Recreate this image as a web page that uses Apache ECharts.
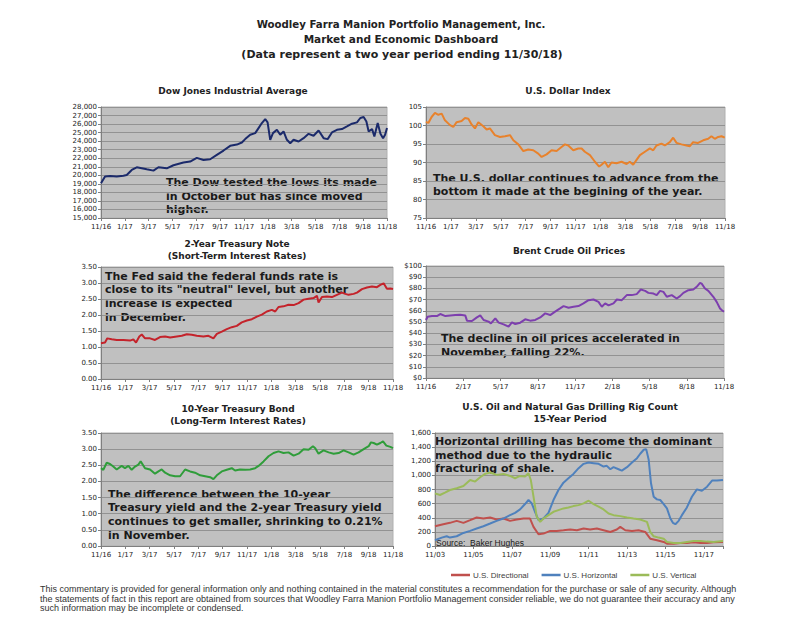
<!DOCTYPE html>
<html>
<head>
<meta charset="utf-8">
<script src="https://cdn.jsdelivr.net/npm/echarts@6/dist/echarts.min.js"></script>
<style>
html,body{margin:0;padding:0;background:#fff;}
#chart{width:800px;height:620px;}
</style>
</head>
<body>
<div id="chart"></div>
<script>
// ---------- DATA (x = months since 11/2016, or years since 11/2003 for rig counts) ----------
const dowX = [0,0.34,0.76,1.32,1.88,2.16,2.58,3.0,3.42,3.84,4.4,4.82,5.52,6.08,6.92,7.48,8.04,8.6,9.16,9.72,10.28,10.84,11.4,11.82,12.1,12.52,12.94,13.22,13.5,13.78,13.98,14.2,14.43,14.76,15.04,15.32,15.6,15.88,16.16,16.58,17.0,17.42,17.84,18.26,18.68,19.02,19.38,19.8,20.22,20.64,21.06,21.48,21.76,22.04,22.27,22.46,22.75,22.94,23.22,23.45,23.67,23.84,24.0];
const dowY = [19060,19850,19920,19850,19960,20040,20630,20940,20820,20700,20550,20940,20820,21180,21490,21610,22040,21800,21880,22390,22900,23450,23600,23840,24240,24750,24940,25530,26120,26590,26200,24160,24940,25330,24750,25140,24160,23760,24160,23960,24350,24860,24630,25250,24350,24240,25020,25330,25410,25720,26040,26200,26710,26820,26310,25140,25410,24550,26120,24860,24350,24750,25530];

const usdX = [0,0.19,0.45,0.72,0.99,1.26,1.52,1.93,2.19,2.46,2.86,3.13,3.4,3.66,3.93,4.2,4.6,4.87,5.13,5.53,5.94,6.34,6.74,7.01,7.41,7.81,8.21,8.61,9.01,9.28,9.68,10.08,10.48,10.88,11.15,11.42,11.82,12.22,12.49,12.75,13.16,13.56,13.9,14.09,14.36,14.63,14.89,15.29,15.7,16.1,16.36,16.63,16.9,17.17,17.57,17.97,18.24,18.5,18.9,19.17,19.57,19.84,20.11,20.51,20.91,21.18,21.44,21.84,22.25,22.65,22.91,23.18,23.45,23.72,23.98];
const usdY = [101.0,100.7,102.3,103.4,102.9,103.2,101.4,100.1,99.6,100.9,101.2,102.0,101.8,100.3,99.2,100.9,99.8,98.9,99.2,97.4,96.9,97.1,97.4,96.0,94.9,93.1,93.5,93.3,92.4,91.5,92.2,93.3,93.1,94.2,94.9,94.6,93.3,93.8,93.8,92.9,92.0,90.2,88.9,89.4,90.2,88.7,90.0,89.8,90.2,89.6,90.2,89.4,90.7,92.0,92.9,93.8,93.3,94.6,95.1,94.6,95.5,96.7,95.3,94.9,94.6,94.4,95.5,95.3,96.0,96.4,97.1,96.4,96.9,97.1,96.7];

const t2X = [0,0.33,0.52,0.88,1.29,1.84,2.39,2.66,2.88,3.15,3.35,3.62,4.03,4.44,4.85,5.27,5.68,6.23,6.64,7.05,7.46,7.87,8.42,8.83,9.24,9.52,9.93,10.34,10.75,11.16,11.57,11.99,12.4,12.81,13.22,13.63,14.04,14.32,14.59,15.0,15.41,15.83,16.24,16.65,17.06,17.47,17.75,17.88,18.16,18.57,18.98,19.39,19.8,20.08,20.35,20.76,21.04,21.45,21.86,22.27,22.68,22.96,23.23,23.5,23.78,24.0];
const t2Y = [1.12,1.14,1.27,1.24,1.22,1.22,1.20,1.24,1.14,1.33,1.39,1.27,1.27,1.22,1.31,1.33,1.30,1.33,1.35,1.40,1.38,1.35,1.33,1.35,1.27,1.41,1.48,1.56,1.62,1.66,1.77,1.83,1.87,1.95,2.01,2.11,2.16,2.11,2.25,2.27,2.32,2.31,2.37,2.48,2.51,2.53,2.60,2.39,2.56,2.58,2.56,2.63,2.70,2.66,2.63,2.66,2.70,2.81,2.86,2.89,2.87,2.94,2.99,2.82,2.83,2.81];

const brentX = [0,0.13,0.48,0.88,1.15,1.56,1.96,2.36,2.76,3.16,3.3,3.7,4.1,4.37,4.64,5.04,5.23,5.58,5.85,6.25,6.65,6.92,7.19,7.59,7.99,8.39,8.8,9.2,9.6,10.0,10.4,10.8,11.08,11.48,11.88,12.28,12.68,13.09,13.49,13.89,14.16,14.43,14.7,15.1,15.37,15.77,16.17,16.57,16.97,17.3,17.65,17.91,18.32,18.58,18.85,19.12,19.39,19.79,20.19,20.46,20.73,21.13,21.53,21.8,22.07,22.2,22.47,22.74,23.14,23.41,23.68,23.81,24.0];
const brentY = [51.8,54.7,55.3,55.3,57.1,55.3,55.9,56.2,56.5,55.9,51.2,50.9,54.1,55.9,51.8,50.3,48.8,53.3,49.4,47.9,45.9,49.7,48.2,49.4,52.4,51.2,51.8,54.1,57.7,56.2,59.2,62.1,64.2,62.7,63.6,64.2,66.6,69.5,70.1,68.0,63.6,66.6,64.8,66.6,70.1,69.5,74.0,74.0,74.9,79.0,77.8,76.0,75.4,74.0,77.8,76.9,72.5,74.0,71.0,73.1,76.0,78.4,79.0,81.4,84.9,84.3,79.9,77.8,72.5,68.0,62.1,60.7,59.2];

const t10X = [0,0.19,0.47,0.74,1.01,1.29,1.7,1.97,2.25,2.52,2.8,3.07,3.26,3.62,4.03,4.44,4.72,4.99,5.27,5.68,6.09,6.5,6.91,7.32,7.73,8.15,8.56,8.97,9.24,9.52,9.93,10.34,10.75,11.02,11.43,11.85,12.26,12.67,12.95,13.36,13.77,14.18,14.59,15.0,15.41,15.83,16.24,16.65,17.06,17.42,17.61,17.88,18.29,18.71,19.12,19.53,19.94,20.35,20.76,21.17,21.59,22.0,22.19,22.41,22.68,22.96,23.18,23.45,23.78,24.0];
const t10Y = [2.41,2.36,2.58,2.54,2.46,2.37,2.48,2.41,2.48,2.36,2.46,2.52,2.62,2.41,2.37,2.24,2.31,2.37,2.27,2.19,2.16,2.16,2.37,2.31,2.27,2.19,2.16,2.13,2.07,2.19,2.31,2.36,2.41,2.34,2.37,2.36,2.37,2.41,2.48,2.62,2.78,2.88,2.93,2.88,2.90,2.80,2.86,3.00,2.98,3.09,3.03,2.86,2.96,2.90,2.86,2.88,2.96,2.90,2.83,2.90,3.00,3.09,3.21,3.19,3.14,3.19,3.24,3.11,3.07,3.03];

const rigDirX = [0,0.43,0.78,1.13,1.48,1.83,2.17,2.52,2.87,3.21,3.56,3.91,4.26,4.61,4.95,5.13,5.39,5.65,6.0,6.34,6.69,7.04,7.39,7.74,8.08,8.43,8.78,9.13,9.47,9.65,9.91,10.26,10.6,10.95,11.21,11.56,11.91,12.08,12.43,12.78,13.12,13.47,13.82,14.17,14.51,15.0];
const rigDirY = [280,309,328,356,328,366,404,389,404,375,389,356,375,389,389,271,166,176,214,214,223,233,223,247,233,247,223,199,233,271,223,214,223,199,104,81,57,33,33,43,43,52,43,43,52,57];
const rigHorX = [0,0.35,0.61,0.78,1.13,1.48,1.83,2.17,2.52,2.87,3.21,3.56,3.91,4.17,4.43,4.69,4.87,5.04,5.21,5.39,5.65,5.91,6.17,6.43,6.69,6.95,7.21,7.48,7.74,8.0,8.26,8.52,8.78,8.95,9.13,9.3,9.56,9.73,10.0,10.26,10.52,10.69,10.87,11.0,11.13,11.25,11.39,11.56,11.73,11.91,12.08,12.26,12.39,12.52,12.69,12.86,13.12,13.38,13.64,13.9,14.17,14.43,14.69,15.0];
const rigHorY = [81,119,138,119,138,185,214,247,280,318,356,389,437,470,518,594,651,603,484,366,389,470,651,793,897,959,1021,1102,1163,1182,1173,1163,1125,1135,1087,1116,1087,1068,1116,1182,1244,1306,1363,1372,1220,888,698,660,651,594,532,389,328,309,356,437,546,698,802,783,840,926,926,935];
const rigVerX = [0,0.26,0.52,0.78,1.13,1.48,1.83,2.09,2.35,2.61,2.87,3.21,3.56,3.91,4.17,4.43,4.69,4.87,4.99,5.13,5.3,5.48,5.65,5.91,6.17,6.43,6.69,6.95,7.21,7.48,7.74,8.0,8.26,8.52,8.78,9.04,9.3,9.65,10.0,10.34,10.69,11.04,11.21,11.39,11.65,11.91,12.08,12.43,12.78,13.12,13.47,13.82,14.17,14.51,15.0];
const rigVerY = [745,722,755,793,817,850,935,912,973,1021,1040,1007,1021,992,959,992,983,1030,935,698,413,342,389,437,484,508,532,546,565,579,603,641,594,556,518,461,437,423,404,389,375,342,199,138,119,104,57,43,43,57,71,71,62,57,71];

const rigNames = ['U.S. Directional','U.S. Horizontal','U.S. Vertical'];

const mainTitle = ['Woodley Farra Manion Portfolio Management, Inc.','Market and Economic Dashboard','(Data represent a two year period ending 11/30/18)'];
const footer = [
 'This commentary is provided for general information only and nothing contained in the material constitutes a recommendation for the purchase or sale of any security. Although',
 'the statements of fact in this report are obtained from sources that Woodley Farra Manion Portfolio Management consider reliable, we do not guarantee their accuracy and any',
 'such information may be incomplete or condensed.'
];

// ---------- HELPERS ----------
function zip(xs, ys){ const n=Math.min(xs.length,ys.length); const r=[]; for(let i=0;i<n;i++) r.push([xs[i],ys[i]]); return r; }
function monthLabel(v){ const m=Math.round(v); const mon=((10+m)%12)+1; const yr=16+Math.floor((10+m)/12); return mon+'/'+yr; }
function rigLabel(v){ if(Math.abs(v-Math.round(v))>1e-6 || Math.round(v)%2!==0) return ''; const y=3+Math.round(v); return '11/'+(y<10?'0'+y:y); }
function comma(v){ return v.toLocaleString('en-US'); }

const AX = '#7f7f7f';
const LBL = {fontSize:7, color:'#222', fontFamily:'DejaVu Sans'};
function xAxis(gi, max, interval, fmt){
  return {type:'value', gridIndex:gi, min:0, max:max, interval:interval,
    axisLine:{show:true, onZero:false, lineStyle:{color:AX}},
    axisTick:{show:true, length:3, lineStyle:{color:AX}},
    splitLine:{show:false},
    axisLabel:Object.assign({margin:5, formatter:fmt, showMaxLabel:true, hideOverlap:false}, LBL)};
}
function yAxis(gi, min, max, interval, fmt){
  return {type:'value', gridIndex:gi, min:min, max:max, interval:interval,
    axisLine:{show:true, lineStyle:{color:AX}},
    axisTick:{show:true, length:3, lineStyle:{color:AX}},
    splitLine:{show:true, lineStyle:{color:'#929292', width:1}},
    axisLabel:Object.assign({margin:4, formatter:fmt}, LBL)};
}
function grid(l,t,w,h){ return {left:l, top:t, width:w, height:h, show:true, backgroundColor:'#c0c0c0', borderColor:'#b0b0b0', borderWidth:1}; }
function line(name, gi, data, color){
  return {name:name, type:'line', xAxisIndex:gi, yAxisIndex:gi, data:data, showSymbol:false, symbol:'none',
    lineStyle:{color:color, width:2}, itemStyle:{color:color}, animation:false};
}
function txt(x, y, s, font, opt){
  return Object.assign({type:'text', x:x, y:y, silent:true,
    style:{text:s, font:font, fill:'#1a1a1a', align:'left', verticalAlign:'middle'}}, opt||{});
}
function ctxt(x,y,s,font){ const t=txt(x,y,s,font); t.style.align='center'; t.style.fill='#222'; return t; }

const FB = '"DejaVu Sans", Verdana, sans-serif';
const ANN = 'bold 11px ' + FB;
const CT = 'bold 9px ' + FB;

const graphics = [];
// Main title
graphics.push(ctxt(401, 24, mainTitle[0], 'bold 10.2px ' + FB));
graphics.push(ctxt(401, 39, mainTitle[1], 'bold 10.5px ' + FB));
graphics.push(ctxt(402, 54, mainTitle[2], 'bold 11px ' + FB));
// Chart titles
graphics.push(ctxt(233, 91, 'Dow Jones Industrial Average', CT));
graphics.push(ctxt(568, 91, 'U.S. Dollar Index', CT));
graphics.push(ctxt(237, 244, '2-Year Treasury Note', CT));
graphics.push(ctxt(237, 256, '(Short-Term Interest Rates)', CT));
graphics.push(ctxt(569, 251, 'Brent Crude Oil Prices', CT));
graphics.push(ctxt(238, 409, '10-Year Treasury Bond', CT));
graphics.push(ctxt(238, 421, '(Long-Term Interest Rates)', CT));
graphics.push(ctxt(570, 407, 'U.S. Oil and Natural Gas Drilling Rig Count', CT));
graphics.push(ctxt(570, 419, '15-Year Period', CT));
// Annotations
[['The Dow tested the lows its made',182],['in October but has since moved',196],['higher.',209]].forEach(a=>graphics.push(txt(166,a[1],a[0],ANN)));
[['The U.S. dollar continues to advance from the',178],['bottom it made at the begining of the year.',191]].forEach(a=>graphics.push(txt(433,a[1],a[0],ANN)));
[['The Fed said the federal funds rate is',276],['close to its "neutral" level, but another',289.5],['increase is expected',303],['in December.',317]].forEach(a=>graphics.push(txt(105,a[1],a[0],ANN)));
[['The decline in oil prices accelerated in',338.5],['November, falling 22%.',352.5]].forEach(a=>graphics.push(txt(441,a[1],a[0],ANN)));
[['The difference between the 10-year',494],['Treasury yield and the 2-year Treasury yield',507.5],['continues to get smaller, shrinking to 0.21%',521.5],['in November.',535]].forEach(a=>graphics.push(txt(108,a[1],a[0],ANN)));
[['Horizontal drilling has become the dominant',441],['method due to the hydraulic',455],['fracturing of shale.',468.5]].forEach(a=>graphics.push(txt(435,a[1],a[0],ANN)));
// Source
graphics.push(txt(436, 543, 'Source:  Baker Hughes', '8.5px "Liberation Sans", Arial, sans-serif', {}));
// Footer
footer.forEach((s,i)=>{ const t=txt(40, 589+i*9.6, s, '9px "Liberation Sans", Arial, sans-serif'); t.style.fill='#333'; graphics.push(t); });

const option = {
  backgroundColor:'#ffffff',
  animation:false,
  grid:[
    grid(101,107,286,111),
    grid(426,107,299,111),
    grid(101,267,292,112),
    grid(426,266,298,112),
    grid(101,433,292,113),
    grid(435,433,288,113)
  ],
  xAxis:[
    xAxis(0,24,2,monthLabel),
    xAxis(1,24,2,monthLabel),
    xAxis(2,24,2,monthLabel),
    xAxis(3,24,3,monthLabel),
    xAxis(4,24,2,monthLabel),
    xAxis(5,15,2,rigLabel)
  ],
  yAxis:[
    yAxis(0,15000,28000,1000,comma),
    yAxis(1,75,105,5,v=>String(v)),
    yAxis(2,0,3.5,0.5,v=>v.toFixed(2)),
    yAxis(3,0,100,10,v=>'$'+v),
    yAxis(4,0,3.5,0.5,v=>v.toFixed(2)),
    yAxis(5,0,1600,200,comma)
  ],
  legend:{
    data:rigNames, left:446, top:566, icon:'rect', itemWidth:19, itemHeight:2.5, itemGap:13,
    textStyle:{fontSize:8, color:'#404040', fontFamily:'"Liberation Sans", Arial, sans-serif', padding:[0,0,0,-2]}
  },
  series:[
    line('Dow Jones Industrial Average',0,zip(dowX,dowY),'#1b2a6b'),
    line('U.S. Dollar Index',1,zip(usdX,usdY),'#e8822c'),
    line('2-Year Treasury Note',2,zip(t2X,t2Y),'#c4232b'),
    line('Brent Crude Oil Prices',3,zip(brentX,brentY),'#7d3fae'),
    line('10-Year Treasury Bond',4,zip(t10X,t10Y),'#2f9d3a'),
    line(rigNames[0],5,zip(rigDirX,rigDirY),'#c0504d'),
    line(rigNames[1],5,zip(rigHorX,rigHorY),'#4f81bd'),
    line(rigNames[2],5,zip(rigVerX,rigVerY),'#9bbb59')
  ],
  graphic:graphics
};

const chart = echarts.init(document.getElementById('chart'), null, {renderer:'svg', width:800, height:620});
chart.setOption(option);
</script>
</body>
</html>
